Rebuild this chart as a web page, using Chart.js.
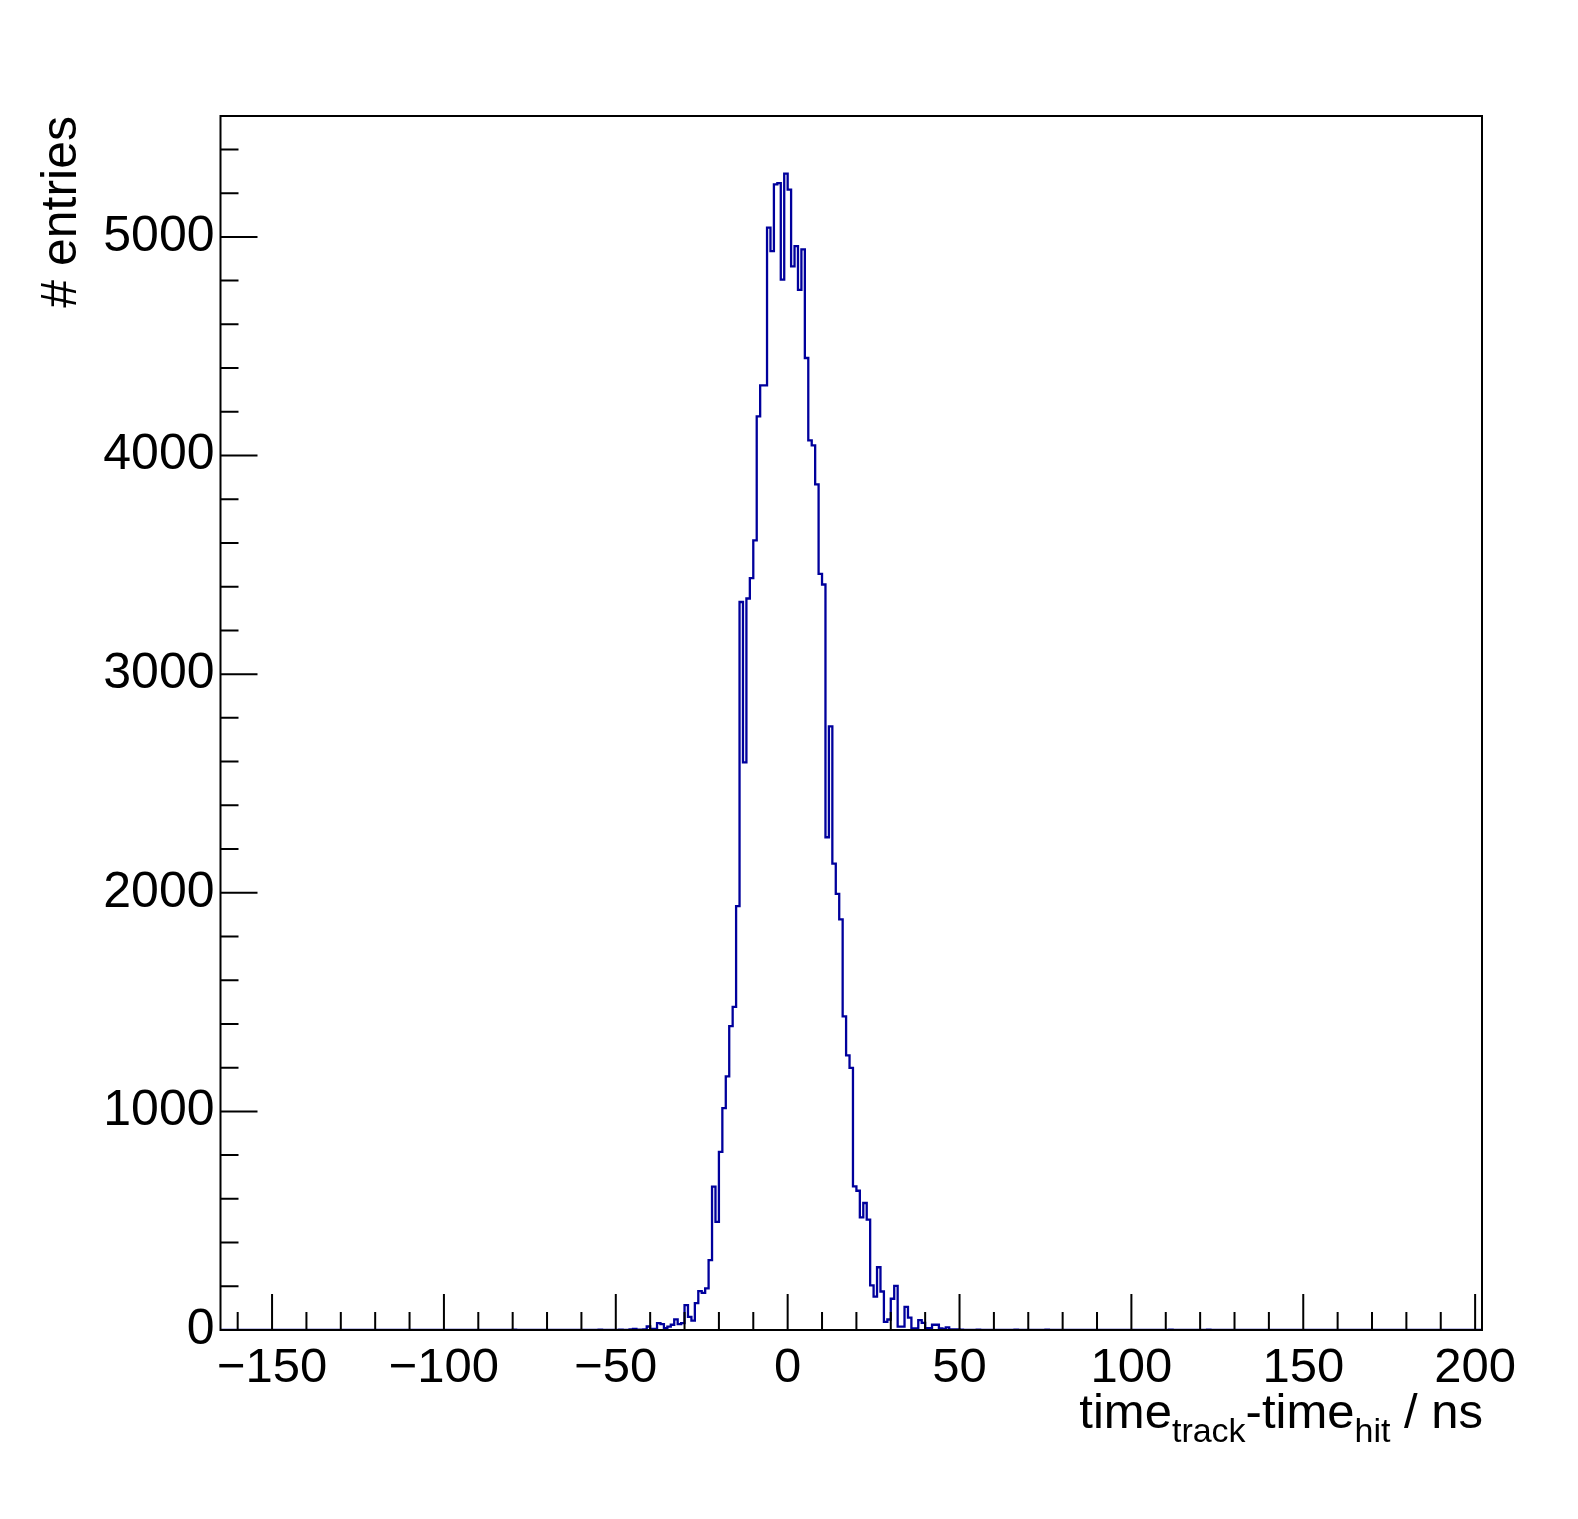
<!DOCTYPE html>
<html><head><meta charset="utf-8">
<script src="https://cdn.jsdelivr.net/npm/chart.js@4"></script>
<style>html,body{margin:0;padding:0;background:#fff}canvas{display:block}</style>
</head><body>
<canvas id="c" width="1578" height="1519"></canvas>
<script>
// ---- data ----
const xMin = -165, xMax = 202;          // histogram range (ns), 1 ns bins
const yMax = 5553;                      // ROOT: 1.05 * maximum
const firstBin = -46;                   // low edge of first listed bin
const counts = [
  3, 5, 2, 2, 3, 16, 5, 5, 31, 27,            // -46 .. -37
  9, 15, 24, 49, 27, 31, 114, 60, 43, 123,    // -36 .. -27
  178, 170, 190, 320, 656, 495, 815, 1015, 1160, 1390, // -26 .. -17
  1478, 1939, 3330, 2596, 3346, 3439, 3612, 4179, 4321, 4321, // -16 .. -7
  5042, 4935, 5240, 5246, 4805, 5289, 5216, 4865, 4958, 4758, // -6 .. 3
  4943, 4446, 4069, 4046, 3868, 3459, 3410, 2254, 2761, 2133, // 4 .. 13
  1995, 1878, 1435, 1256, 1199, 657, 637, 515, 581, 505,      // 14 .. 23
  204, 153, 287, 176, 37, 48, 143, 202, 15, 15,               // 24 .. 33
  106, 57, 7, 7, 45, 33, 9, 9, 24, 24,                        // 34 .. 43
  7, 5, 12, 3, 3, 3, 2                                        // 44 .. 50
];
const tailBins   = [-141, -130, -121, -95, -88, -80, -74, -60, -55, -52, -49, 55, 60, 66, 70, 75, 80, 86, 93, 111, 112, 119, 122, 124];
const tailCounts = [1, 1, 1, 1, 1, 2, 1, 1, 2, 1, 2, 2, 1, 2, 1, 2, 1, 1, 1, 2, 1, 1, 2, 1];
const xTickValues = [-150, -100, -50, 0, 50, 100, 150, 200];
const yTickValues = [0, 1000, 2000, 3000, 4000, 5000];
const xMinorStep = 10, yMinorStep = 200;
const xTitleParts = [["time", 0], ["track", 1], ["-time", 0], ["hit", 1], [" / ns", 0]];
const yTitle = "# entries";

// ---- build histogram ----
const nBins = xMax - xMin;
const hist = new Array(nBins).fill(0);
counts.forEach((v, i) => { hist[firstBin + i - xMin] = v; });
tailBins.forEach((b, i) => { hist[b - xMin] = tailCounts[i]; });
const pts = hist.map((v, i) => ({x: xMin + i, y: v}));
pts.push({x: xMax, y: hist[nBins - 1]});

const FONT = "'Liberation Sans', Arial, Helvetica, sans-serif";

const rootFrame = {
  id: 'rootFrame',
  beforeDraw(chart) {
    const c = chart.ctx; c.save(); c.fillStyle = '#fff'; c.fillRect(0, 0, chart.width, chart.height); c.restore();
  },
  afterDatasetsDraw(chart) {
    const {ctx, chartArea: a, scales: {x, y}} = chart;
    ctx.save();
    ctx.strokeStyle = '#000';
    ctx.lineWidth = 2;
    ctx.beginPath();
    for (let v = Math.ceil(xMin / xMinorStep) * xMinorStep; v <= xMax; v += xMinorStep) {
      const px = x.getPixelForValue(v);
      const len = xTickValues.includes(v) ? 36 : 18;
      ctx.moveTo(px, a.bottom); ctx.lineTo(px, a.bottom - len);
    }
    for (let v = 0; v <= yMax; v += yMinorStep) {
      const py = y.getPixelForValue(v);
      const len = yTickValues.includes(v) ? 37 : 18;
      ctx.moveTo(a.left, py); ctx.lineTo(a.left + len, py);
    }
    ctx.stroke();
    ctx.lineWidth = 2;
    ctx.strokeRect(a.left, a.top, a.right - a.left, a.bottom - a.top);

    // x title, right aligned with subscripts
    ctx.fillStyle = '#000';
    ctx.textBaseline = 'alphabetic';
    const big = '49px ' + FONT, small = '34px ' + FONT;
    let total = 0;
    xTitleParts.forEach(([t, s]) => { ctx.font = s ? small : big; total += ctx.measureText(t).width; });
    let cx = a.right + 1 - total;
    const base = 1428;
    xTitleParts.forEach(([t, s]) => {
      ctx.font = s ? small : big;
      ctx.fillText(t, cx, s ? base + 14 : base);
      cx += ctx.measureText(t).width;
    });

    // y title, rotated, aligned to top of frame
    ctx.save();
    ctx.translate(76, a.top);
    ctx.rotate(-Math.PI / 2);
    ctx.font = '50px ' + FONT;
    ctx.textAlign = 'right';
    ctx.fillText(yTitle, 0, 0);
    ctx.restore();
    ctx.restore();
  }
};

const minusFmt = v => (v < 0 ? '\u2212' + Math.abs(v) : String(v));

new Chart(document.getElementById('c'), {
  type: 'line',
  data: {
    datasets: [{
      data: pts,
      stepped: 'before',
      borderColor: '#00009c',
      borderWidth: 2.3,
      pointRadius: 0,
      fill: false,
      tension: 0
    }]
  },
  options: {
    responsive: false,
    animation: false,
    events: [],
    layout: {padding: {left: 0, right: 96, top: 116, bottom: 0}},
    plugins: {legend: {display: false}, tooltip: {enabled: false}},
    scales: {
      x: {
        type: 'linear', min: xMin, max: xMax,
        grid: {display: false, drawTicks: false},
        border: {display: false},
        afterBuildTicks: s => { s.ticks = xTickValues.map(v => ({value: v})); },
        afterFit: s => { s.height = 189; },
        ticks: {
          font: {family: FONT, size: 49}, color: '#000', padding: 9,
          maxRotation: 0, autoSkip: false, callback: v => minusFmt(v)
        }
      },
      y: {
        type: 'linear', min: 0, max: yMax,
        grid: {display: false, drawTicks: false},
        border: {display: false},
        afterBuildTicks: s => { s.ticks = yTickValues.map(v => ({value: v})); },
        afterFit: s => { s.width = 220.5; },
        ticks: {
          font: {family: FONT, size: 50}, color: '#000', padding: 6,
          callback: v => String(v)
        }
      }
    }
  },
  plugins: [rootFrame]
});
</script>
</body></html>
